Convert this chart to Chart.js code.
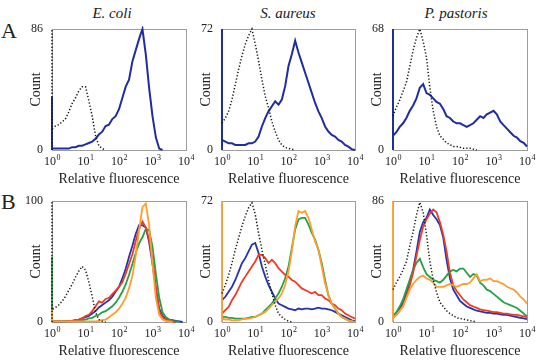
<!DOCTYPE html>
<html>
<head>
<meta charset="utf-8">
<script src="https://cdn.jsdelivr.net/npm/chart.js@4.4.1/dist/chart.umd.min.js"></script>
<style>
  body { margin: 0; background: #fff; }
  #fig { position: relative; width: 541px; height: 363px; overflow: hidden; font-family: "Liberation Serif", "DejaVu Serif", serif; color: #222; }
  #fig canvas { position: absolute; }
  .species { position: absolute; top: 4px; width: 140px; margin-left: -70px; text-align: center; font-style: italic; font-size: 15px; line-height: 18px; }
  .letter { position: absolute; left: 1px; font-size: 22px; line-height: 24px; }
</style>
</head>
<body>
<div id="fig">
  <div class="letter" style="top:19px">A</div>
  <div class="letter" style="top:190px">B</div>
  <div class="species" style="left:112px">E. coli</div>
  <div class="species" style="left:288px">S. aureus</div>
  <div class="species" style="left:456px">P. pastoris</div>
</div>
<script>
const FONT = "'Liberation Serif', 'DejaVu Serif', serif";

// channel positions in decades (10^0 .. 10^4)
const logFluor = [0, 0.1, 0.2, 0.3, 0.4, 0.5, 0.6, 0.7, 0.8, 0.9, 1, 1.1, 1.2, 1.3, 1.4, 1.5, 1.6, 1.7, 1.8, 1.9, 2,
  2.1, 2.2, 2.3, 2.4, 2.5, 2.6, 2.7, 2.8, 2.9, 3, 3.1, 3.2, 3.3, 3.4, 3.5, 3.6, 3.7, 3.8, 3.9, 4];
const xTickDecades = [0, 1, 2, 3, 4];
const countMaxA = [86, 72, 68];
const countMaxB = [100, 72, 86];

// row A: unstained control (dotted) and stained cells (blue)
const ecoliCtrlA = [15, 17, 18, 20, 22, 27, 33, 37, 42, 45, 45, 35, 24, 10, 3, 1, 0];
const ecoliStainA = [1, 1, 1, 1, 1, 1, 2, 2, 3, 3, 4, 5, 6, 8, 11, 13, 17, 18, 22, 24, 29, 37, 45, 50, 63, 71, 79, 86, 68, 44, 24, 9, 1, 0];
const aureusCtrlA = [16, 19, 23, 30, 39, 48, 56, 63, 68, 72, 63, 53, 42, 32, 25, 17, 11, 6, 3, 1.5, 1, 0.5, 0];
const aureusStainA = [6, 5, 4, 4, 3, 3, 3, 3, 4, 4, 5, 8, 14, 19, 23, 26, 29, 27, 30, 38, 50, 57, 65, 58, 52, 46, 40, 34, 28, 23, 19, 14, 11, 9, 8, 6, 5, 3, 2, 0.5, 0];
const pastorisCtrlA = [19, 24, 28, 33, 38, 47, 56, 63, 68, 61, 52, 35, 22, 13, 8, 6, 4, 3, 2, 2, 1.5, 1, 1, 1, 0.5, 0];
const pastorisStainA = [8, 10, 13, 15, 18, 22, 25, 29, 35, 37, 32, 31, 29, 27, 26, 23, 19, 18, 16, 15, 15, 14, 13, 14, 15, 17, 19, 18, 20, 21, 22, 20, 16, 14, 12, 10, 8, 7, 5, 4, 2];
// height of the first channel (everything at or below 10^0): [control, stained]
const firstChannelA = [[86, 38], [0, 72], [0, 68]];

// row B: control (dotted), blue, red, green, orange
const ecoliCtrlB = [10, 12, 14, 17, 21, 26, 31, 37, 42, 46, 43, 33, 21, 8, 2, 0.5, 0];
const ecoliBlueB = [0.5, 0.5, 0.5, 0.5, 0.5, 1, 1, 1.5, 2, 3, 4, 5, 7, 9, 12, 14, 16, 18, 21, 25, 29, 36, 44, 54, 63, 73, 80, 80, 78, 66, 48, 28, 11, 5, 3, 2, 1.5, 1, 0.5, 0];
const ecoliRedB = [0.5, 0.5, 0.5, 0.5, 0.5, 1, 1, 1.5, 2, 3, 5, 6, 9, 13, 17, 16, 19, 20, 23, 26, 29, 33, 40, 48, 56, 67, 77, 83, 78, 68, 52, 28, 9, 4, 2, 1, 0.5, 0];
const ecoliGreenB = [0.5, 0.5, 0.5, 0.5, 0.5, 0.5, 0.5, 1, 1, 1.5, 2, 3, 3.5, 5, 6, 8, 9, 11, 13, 16, 20, 25, 31, 39, 48, 57, 65, 70, 77, 76, 62, 40, 20, 8, 4, 2, 1, 0.5, 0];
const ecoliOrangeB = [0.5, 0.5, 0.5, 0.5, 0.5, 0.5, 0.5, 0.5, 0.5, 0.5, 0.5, 0.5, 0.5, 0.5, 1, 1.5, 2, 4, 6, 8, 11, 15, 20, 28, 38, 55, 76, 95, 98, 80, 48, 20, 6, 2, 1, 0.5, 0];

const aureusCtrlB = [17, 22, 28, 35, 43, 50, 57, 63, 68, 71, 64, 53, 43, 34, 25, 17, 10, 5, 3, 1.5, 0.5, 0];
const aureusBlueB = [13, 15, 18, 21, 25, 30, 35, 38, 42, 46, 47, 41, 33, 27, 22, 18, 14, 11, 10, 9, 8, 7.5, 7, 8, 7.5, 8, 8, 7.5, 8, 8.5, 8, 8, 7.5, 7, 6, 5, 4, 3, 2, 1, 0.5];
const aureusRedB = [5, 7, 9, 13, 16, 20, 24, 27, 30, 33, 36, 40, 40, 38, 35, 37, 35, 32, 30, 28, 27, 25, 24, 22, 20, 19, 18, 17, 18, 16, 16, 14, 13, 11, 10, 8, 7, 5, 4, 3, 2];
const aureusGreenB = [3, 3, 2.5, 2.5, 2, 2, 2, 2, 2.5, 3, 3, 4, 5, 7, 9, 11, 14, 17, 21, 26, 33, 44, 55, 61, 62, 62, 58, 53, 49, 43, 35, 25, 16, 11, 8, 5, 3, 2, 1, 0.5, 0];
const aureusOrangeB = [2, 1.5, 1.5, 1, 1, 1, 1.5, 2, 2, 2.5, 3, 4, 5, 6, 8, 10, 12, 14, 17, 22, 30, 42, 57, 66, 65, 66, 62, 55, 48, 43, 33, 23, 16, 11, 8, 5, 3, 2, 1, 0.5, 0];

const pastorisCtrlB = [23, 28, 32, 37, 43, 54, 64, 76, 85, 78, 62, 43, 30, 21, 14, 11, 8, 6, 4.5, 3, 2.5, 2, 1.5, 1, 0.5, 0];
const pastorisBlueB = [4, 6, 9, 14, 20, 28, 37, 50, 64, 71, 74, 80, 76, 73, 69, 60, 44, 31, 23, 19, 15, 13, 11, 10, 9, 8, 7.5, 7, 6.5, 6.5, 6, 6, 5.5, 5, 5, 4.5, 4, 3.5, 3, 2.5, 2];
const pastorisRedB = [3, 5, 8, 12, 18, 26, 35, 47, 58, 68, 73, 77, 80, 78, 71, 62, 50, 35, 26, 22, 19, 16, 14, 12, 11, 10, 9, 8.5, 8, 7.5, 7, 7, 6.5, 6, 6, 5.5, 5, 5, 4.5, 4, 3.5];
const pastorisGreenB = [4, 7, 11, 16, 23, 30, 37, 42, 45, 39, 34, 32, 30, 29, 28, 30, 33, 36, 37, 36, 38, 38, 35, 32, 34, 33, 28, 26, 23, 22, 20, 18, 16, 14, 13, 12, 11, 10, 8, 6, 4];
const pastorisOrangeB = [3, 5, 8, 11, 17, 23, 27, 30, 32, 33, 31, 30, 28, 25, 25, 25, 26, 27, 26, 25, 26, 27, 27, 28, 31, 34, 29, 30, 30, 31, 29, 29, 28, 27, 25, 24, 23, 21, 18, 16, 13];
// first channel heights: [control, blue, red, green, orange]
const firstChannelB = [[100, 0, 0, 54, 10], [0, 0, 0, 0, 72], [0, 0, 0, 0, 86]];

const styles = {
  control: { color: "#1a1a1a", width: 1.5, dash: [1.3, 2] },
  stained: { color: "#1f2d9e", width: 2, dash: [] },
  blue: { color: "#2433b0", width: 1.8, dash: [] },
  red: { color: "#f23a22", width: 1.8, dash: [] },
  green: { color: "#24a046", width: 1.8, dash: [] },
  orange: { color: "#ff9d2e", width: 1.8, dash: [] }
};

function curve(values, spike) {
  const pts = spike > 0 ? [{ x: 0, y: 0 }, { x: 0, y: spike }] : [];
  values.forEach((y, i) => pts.push({ x: logFluor[i], y }));
  return pts;
}

function dataset(values, spike, style) {
  const s = styles[style];
  return {
    data: curve(values, spike),
    borderColor: s.color,
    borderWidth: s.width,
    borderDash: s.dash,
    pointRadius: 0,
    tension: 0,
    fill: false,
    clip: 3
  };
}

// frame around the plot area and 10^n tick labels
const framePlugin = {
  id: "frame",
  beforeDatasetsDraw(chart) {
    const { ctx, chartArea: a } = chart;
    ctx.save();
    ctx.strokeStyle = "#9d9d9d";
    ctx.lineWidth = 1;
    ctx.strokeRect(Math.round(a.left) + 0.5, Math.round(a.top) + 0.5, Math.round(a.right - a.left), Math.round(a.bottom - a.top));
    ctx.restore();
  },
  afterDraw(chart) {
    const { ctx, chartArea: a } = chart;
    const xs = chart.scales.x;
    ctx.save();
    ctx.fillStyle = "#222";
    ctx.textBaseline = "alphabetic";
    ctx.textAlign = "left";
    xTickDecades.forEach(d => {
      const px = xs.getPixelForValue(d);
      ctx.font = "12px " + FONT;
      const w1 = ctx.measureText("10").width;
      ctx.font = "8px " + FONT;
      const w2 = ctx.measureText(String(d)).width;
      const start = px - (w1 + w2) / 2;
      ctx.font = "12px " + FONT;
      ctx.fillText("10", start, a.bottom + 15);
      ctx.font = "8px " + FONT;
      ctx.fillText(String(d), start + w1 + 0.5, a.bottom + 10);
    });
    ctx.restore();
  }
};

function makePanel(left, top, width, yMax, datasets) {
  const canvas = document.createElement("canvas");
  canvas.width = width + 52 + 16;
  canvas.height = 20 + 121 + 42 + 2;
  canvas.style.left = (left - 52) + "px";
  canvas.style.top = (top - 20) + "px";
  document.getElementById("fig").appendChild(canvas);
  new Chart(canvas.getContext("2d"), {
    type: "line",
    data: { datasets },
    options: {
      responsive: false,
      animation: false,
      layout: { padding: { left: 24, top: 20, right: 16, bottom: 2 } },
      plugins: { legend: { display: false }, tooltip: { enabled: false } },
      scales: {
        x: {
          type: "linear", min: 0, max: 4,
          grid: { display: false, drawTicks: false },
          border: { display: false },
          ticks: { display: false },
          title: { display: true, text: "Relative fluorescence", color: "#222", font: { family: FONT, size: 14 }, padding: { top: 0, bottom: 4 } },
          afterFit: s => { s.height = 42; }
        },
        y: {
          min: 0, max: yMax,
          grid: { display: false, drawTicks: false },
          border: { display: false },
          ticks: { color: "#222", font: { family: FONT, size: 12 }, padding: 9 },
          afterBuildTicks: s => { s.ticks = [{ value: 0 }, { value: yMax }]; },
          title: { display: true, text: "Count", color: "#222", font: { family: FONT, size: 14 }, padding: { top: 4, bottom: 0 } },
          afterFit: s => { s.width = 28; }
        }
      }
    },
    plugins: [framePlugin]
  });
}

const colLeft = [52, 222, 393];
const colWidth = [134, 133, 134];
const rowTop = [29, 201];

const rowA = [[ecoliCtrlA, ecoliStainA], [aureusCtrlA, aureusStainA], [pastorisCtrlA, pastorisStainA]];
rowA.forEach((p, i) => {
  const sp = firstChannelA[i];
  makePanel(colLeft[i], rowTop[0], colWidth[i], countMaxA[i], [
    dataset(p[0], sp[0], "control"),
    dataset(p[1], sp[1], "stained")
  ]);
});

const rowB = [
  [ecoliCtrlB, ecoliBlueB, ecoliRedB, ecoliGreenB, ecoliOrangeB],
  [aureusCtrlB, aureusBlueB, aureusRedB, aureusGreenB, aureusOrangeB],
  [pastorisCtrlB, pastorisBlueB, pastorisRedB, pastorisGreenB, pastorisOrangeB]
];
rowB.forEach((p, i) => {
  const sp = firstChannelB[i];
  // first dataset is drawn on top
  makePanel(colLeft[i], rowTop[1], colWidth[i], countMaxB[i], [
    dataset(p[0], sp[0], "control"),
    dataset(p[4], sp[4], "orange"),
    dataset(p[2], sp[2], "red"),
    dataset(p[3], sp[3], "green"),
    dataset(p[1], sp[1], "blue")
  ]);
});
</script>
</body>
</html>
